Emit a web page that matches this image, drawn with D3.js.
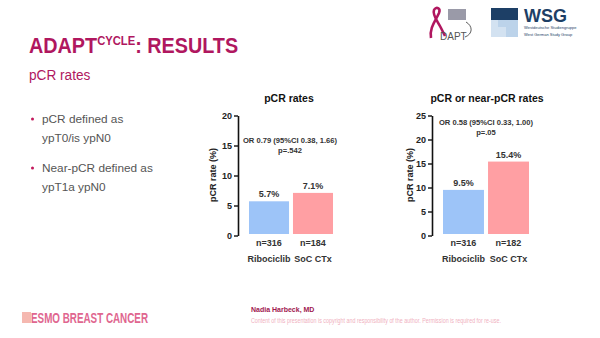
<!DOCTYPE html>
<html>
<head>
<meta charset="utf-8">
<script src="https://cdn.jsdelivr.net/npm/d3@7"></script>
<style>
body { margin: 0; background: #fff; }
svg { display: block; font-family: "Liberation Sans", Arial, sans-serif; }
</style>
</head>
<body>
<div id="slide"></div>
<script>
// data
var groups = ["Ribociclib", "SoC CTx"];
var pcrValues = [5.7, 7.1];
var pcrN = [316, 184];
var nearValues = [9.5, 15.4];
var nearN = [316, 182];
var pcrTicks = [0, 5, 10, 15, 20];
var nearTicks = [0, 5, 10, 15, 20, 25];
var barColors = ["#9dc4f8", "#ff9fa3"];

var W = 600, H = 338;
var svg = d3.select("#slide").append("svg").attr("width", W).attr("height", H);

//***** header *****
// title font is narrower than Liberation, so squeeze it a bit
var title = svg.append("text").attr("transform", "translate(29,53) scale(0.9,1)")
  .attr("fill", "#b0175f").style("font-weight", "bold").style("font-size", "22px");
title.append("tspan").text("ADAPT");
title.append("tspan").attr("dy", -8).style("font-size", "12.5px").text("CYCLE");
title.append("tspan").attr("dy", 8).text(": RESULTS");

svg.append("text").attr("transform", "translate(29,80) scale(0.88,1)").attr("fill", "#b0175f")
  .style("font-size", "15.5px").text("pCR rates");

//***** bullets *****
var bullets = [["pCR defined as", "ypT0/is ypN0"], ["Near-pCR defined as", "ypT1a ypN0"]];
bullets.forEach(function(b, i) {
  var y0 = 123 + i * 49;
  svg.append("circle").attr("cx", 32.5).attr("cy", y0 - 4).attr("r", 1.5).attr("fill", "#c2185b");
  svg.append("text").attr("x", 42).attr("y", y0).attr("fill", "#555").style("font-size", "11.8px").text(b[0]);
  svg.append("text").attr("x", 42).attr("y", y0 + 19).attr("fill", "#555").style("font-size", "11.8px").text(b[1]);
});

//***** charts *****
function drawChart(opt) {
  var g = svg.append("g");
  var y = d3.scaleLinear().domain([0, opt.ticks[opt.ticks.length - 1]]).range([235.5, 115.5]);
  var x = d3.scaleBand().domain(groups).range(opt.barRange).paddingInner(0.09).paddingOuter(0);

  g.selectAll(".bar").data(opt.values).enter().append("rect")
    .attr("class", "bar")
    .attr("x", function(d, i) { return x(groups[i]); })
    .attr("width", x.bandwidth())
    .attr("y", function(d) { return y(d); })
    .attr("height", function(d) { return y(0) - 1.5 - y(d); })
    .attr("fill", function(d, i) { return barColors[i]; });

  var ax = g.append("g").attr("transform", "translate(" + opt.axisX + ",0)")
    .call(d3.axisLeft(y).tickValues(opt.ticks).tickSize(4).tickSizeOuter(0).tickPadding(2));
  ax.select(".domain").attr("stroke", "#111").attr("stroke-width", 1.6);
  ax.selectAll(".tick line").attr("stroke", "#111").attr("stroke-width", 1.4);
  ax.selectAll(".tick text").attr("fill", "#222").style("font-size", "9px").style("font-weight", "bold")
    .style("font-family", "Liberation Sans, Arial, sans-serif");

  g.append("text").attr("transform", "translate(" + opt.labelX + ",175) rotate(-90)")
    .attr("text-anchor", "middle").style("font-size", "9px").style("font-weight", "bold")
    .attr("fill", "#222").text("pCR rate (%)");

  g.append("text").attr("x", opt.titleX).attr("y", 102).attr("text-anchor", "middle")
    .style("font-size", "10.5px").style("font-weight", "bold").attr("fill", "#111").text(opt.title);

  opt.orLines.forEach(function(t, i) {
    g.append("text").attr("x", opt.orX).attr("y", opt.orY + i * 10).attr("text-anchor", "middle")
      .style("font-size", "7.6px").style("font-weight", "bold").attr("fill", "#333").text(t);
  });

  g.selectAll(".val").data(opt.values).enter().append("text")
    .attr("x", function(d, i) { return x(groups[i]) + x.bandwidth() / 2; })
    .attr("y", function(d) { return y(d) - 4; })
    .attr("text-anchor", "middle").style("font-size", "9px").style("font-weight", "bold").attr("fill", "#333")
    .text(function(d) { return d.toFixed(1) + "%"; });

  g.selectAll(".nlab").data(opt.n).enter().append("text")
    .attr("x", function(d, i) { return x(groups[i]) + x.bandwidth() / 2; })
    .attr("y", 246).attr("text-anchor", "middle").style("font-size", "9px").style("font-weight", "bold")
    .attr("fill", "#333").text(function(d) { return "n=" + d; });

  g.selectAll(".glab").data(groups).enter().append("text")
    .attr("x", function(d) { return x(d) + x.bandwidth() / 2; })
    .attr("y", 262).attr("text-anchor", "middle").style("font-size", "9px").style("font-weight", "bold")
    .attr("fill", "#333").text(function(d) { return d; });
}

drawChart({
  values: pcrValues, n: pcrN, ticks: pcrTicks, axisX: 238, barRange: [249, 333],
  labelX: 216, title: "pCR rates", titleX: 289,
  orLines: ["OR 0.79 (95%CI 0.38, 1.66)", "p=.542"], orX: 290, orY: 143
});
drawChart({
  values: nearValues, n: nearN, ticks: nearTicks, axisX: 432, barRange: [443, 529],
  labelX: 413, title: "pCR or near-pCR rates", titleX: 487,
  orLines: ["OR 0.58 (95%CI 0.33, 1.00)", "p=.05"], orX: 486, orY: 125
});

//***** logos (rough) *****
var logo = svg.append("g");
logo.append("path").attr("d", "M431,38 C429,28 436,20 439,13 C441,8 436,6 434,10 C432,15 438,22 441,28 L445,36")
  .attr("fill", "none").attr("stroke", "#b0175f").attr("stroke-width", 2.6);
logo.append("rect").attr("x", 448).attr("y", 9).attr("width", 18).attr("height", 11).attr("fill", "#9a9aa8");
logo.append("text").attr("x", 440).attr("y", 40).attr("fill", "#555").style("font-size", "10px").text("DAPT");
logo.append("path").attr("d", "M466,22 C473,26 473,34 465,37").attr("fill", "none").attr("stroke", "#333").attr("stroke-width", 0.8);
logo.append("rect").attr("x", 491).attr("y", 8).attr("width", 27).attr("height", 12).attr("fill", "#1d3f66");
logo.append("path").attr("d", "M491,20 L518,20 L518,37 L491,37 Z").attr("fill", "#bcd3ea");
logo.append("path").attr("d", "M491,20 L498,20 L498,27 L506,27 L506,37 L491,37 Z").attr("fill", "#d3e2f1");
logo.append("text").attr("x", 524).attr("y", 22).attr("fill", "#1d3f66").style("font-size", "18px")
  .style("font-weight", "bold").text("WSG");
logo.append("text").attr("x", 524).attr("y", 29).attr("fill", "#1d3f66").style("font-size", "4px").text("Westdeutsche Studiengruppe");
logo.append("text").attr("x", 524).attr("y", 35.5).attr("fill", "#1d3f66").style("font-size", "4px").text("West German Study Group");

//***** footer *****
svg.append("rect").attr("x", 22).attr("y", 312).attr("width", 9).attr("height", 11).attr("fill", "#f5b8b0");
svg.append("text").attr("x", 31).attr("y", 323).attr("fill", "#e0668f")
  .style("font-size", "14px").style("font-weight", "bold")
  .attr("textLength", 117).attr("lengthAdjust", "spacingAndGlyphs")
  .text("ESMO BREAST CANCER");
svg.append("text").attr("x", 251).attr("y", 312).attr("fill", "#a0174f")
  .style("font-size", "7px").style("font-weight", "bold").text("Nadia Harbeck, MD");
svg.append("text").attr("x", 251).attr("y", 323).attr("fill", "#f0b0c0")
  .style("font-size", "6.5px").attr("textLength", 250).attr("lengthAdjust", "spacingAndGlyphs")
  .text("Content of this presentation is copyright and responsibility of the author. Permission is required for re-use.");
</script>
</body>
</html>
